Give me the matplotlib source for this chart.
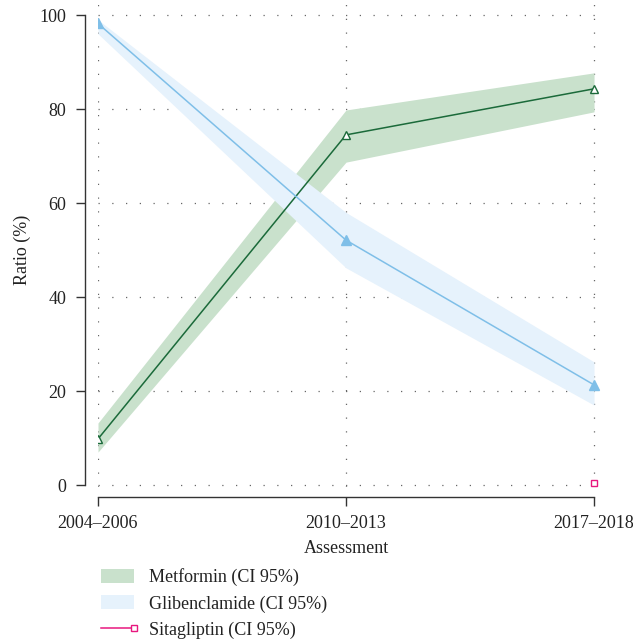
import numpy as np
import matplotlib.pyplot as plt

plt.rcParams['font.family'] = ['Liberation Serif', 'DejaVu Serif']

periods = ['2004–2006', '2010–2013', '2017–2018']

metformin = [9.8, 74.5, 84.3]
metformin_lo = [7.0, 68.7, 79.4]
metformin_hi = [13.2, 79.8, 87.7]

glibenclamide = [98.2, 52.1, 21.3]
glibenclamide_lo = [96.0, 46.2, 17.0]
glibenclamide_hi = [99.0, 58.0, 26.2]

sitagliptin = [np.nan, np.nan, 0.4]

x = np.arange(len(periods))
FS = 13

fig = plt.figure(figsize=(6.33, 6.42), dpi=100)
ax = fig.add_axes([98 / 633, (642 - 487.35) / 642, 507.2 / 633, 487.35 / 642])

# confidence bands
ax.fill_between(x, metformin_lo, metformin_hi, color='#c9e1cc', lw=0,
                label='Metformin (CI 95%)')
ax.fill_between(x, glibenclamide_lo, glibenclamide_hi, color='#e6f2fc', lw=0,
                label='Glibenclamide (CI 95%)')

ax.plot(x, metformin, color='#1b6a3a', lw=1.1, marker='^', ms=5.5,
        mfc='white', mec='#1b6a3a', mew=1.0)
ax.plot(x, glibenclamide, color='#7fbfe8', lw=1.1, marker='^', ms=7.5,
        mfc='#7fbfe8', mec='#7fbfe8')
ax.plot(x, sitagliptin, color='#e8177f', lw=1.1, marker='s', ms=4.5,
        mfc='white', mec='#e8177f', mew=1.0, clip_on=False,
        label='Sitagliptin (CI 95%)')

ax.set_xlim(0, 2.045)
ax.set_ylim(-0.5, 103.2)
ax.set_xticks(x)
ax.set_xticklabels(periods)
ax.set_yticks([0, 20, 40, 60, 80, 100])

ax.grid(True, color='#666666', lw=0.9, linestyle=(0, (1, 10)))
ax.set_axisbelow(True)

for s in ['top', 'right']:
    ax.spines[s].set_visible(False)
ax.spines['left'].set_position(('outward', 9.4))
ax.spines['bottom'].set_position(('outward', 7.2))
ax.spines['left'].set_bounds(0, 100)
ax.spines['bottom'].set_bounds(0, 2)
for s in ['left', 'bottom']:
    ax.spines[s].set_linewidth(1.0)
    ax.spines[s].set_color('#333333')
ax.tick_params(length=6.5, width=1.0, color='#333333', labelsize=FS,
               labelcolor='#222222')
ax.tick_params(axis='y', pad=7)
ax.tick_params(axis='x', pad=6)

ax.set_ylabel('Ratio (%)', fontsize=FS, color='#222222')
ax.set_xlabel('Assessment', fontsize=FS, color='#222222')
ax.yaxis.set_label_coords(-0.132, 0.487)
ax.xaxis.set_label_coords(0.489, -0.108)

leg = fig.legend(loc='upper left', bbox_to_anchor=(85 / 633, 1 - 552 / 642),
                 frameon=False, fontsize=FS, numpoints=1, handlelength=1.83,
                 handleheight=0.83, labelspacing=0.5, handletextpad=0.83,
                 labelcolor='#222222')
# square marker at the right end of the legend line
leg.legend_handles[2].set_markevery([2])

fig.savefig('out.png', dpi=100)
